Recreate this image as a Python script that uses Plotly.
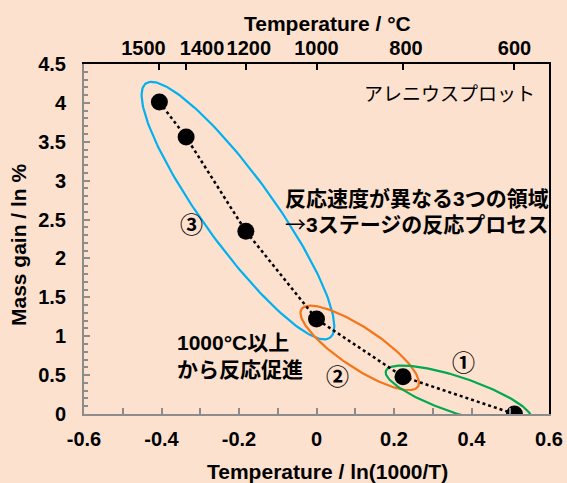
import numpy as np
import plotly.graph_objects as go

# ---- data ----
temps_c = [1500, 1400, 1200, 1000, 800, 600]          # measurement temperatures / °C
mass_gain = [4.01, 3.56, 2.35, 1.22, 0.48, 0.0]       # mass gain / %
top_tick_temps = [1500, 1400, 1200, 1000, 800, 600]   # top axis ticks / °C
x_tick_vals = [-0.6, -0.4, -0.2, 0, 0.2, 0.4, 0.6]
x_tick_text = ["-0.6", "-0.4", "-0.2", "0", "0.2", "0.4", "0.6"]
y_tick_vals = [0, 0.5, 1, 1.5, 2, 2.5, 3, 3.5, 4, 4.5]
y_tick_text = ["0", "0.5", "1", "1.5", "2", "2.5", "3", "3.5", "4", "4.5"]
x_vals = [float(np.log(1000.0 / t)) for t in temps_c]
top_tick_vals = [float(np.log(1000.0 / t)) for t in top_tick_temps]
top_tick_text = [str(t) for t in top_tick_temps]

# stage groupings (index ranges of points enclosed by ellipses)
stage_groups = [(0, 3), (3, 4), (4, 5)]
stage_colors = ["#00B0F0", "#F5761A", "#00A94F"]

# ---- layout / geometry ----
W, H = 567, 483
ML, MR, MT, MB = 84, 18, 64, 69
PW, PH = W - ML - MR, H - MT - MB
XR = [-0.6, 0.6]
YR = [0, 4.5]
stage_pad = [23, 18, 18]       # px beyond end points along major axis
stage_halfw = [35, 20, 18]     # px semi-minor axis
top_label_shift_px = [-16, 16, 3, 0, 3, 0]   # top labels sit slightly off their ticks

def to_px(x, y):
    return (ML + (x - XR[0]) / (XR[1] - XR[0]) * PW,
            MT + PH - (y - YR[0]) / (YR[1] - YR[0]) * PH)

def to_data(px, py):
    return (XR[0] + (px - ML) / PW * (XR[1] - XR[0]),
            YR[0] + (MT + PH - py) / PH * (YR[1] - YR[0]))

def ellipse(i0, i1, pad, hw):
    p0 = np.array(to_px(x_vals[i0], mass_gain[i0]))
    p1 = np.array(to_px(x_vals[i1], mass_gain[i1]))
    c = (p0 + p1) / 2
    d = p1 - p0
    a = np.hypot(*d) / 2 + pad
    ang = np.arctan2(d[1], d[0])
    t = np.linspace(0, 2 * np.pi, 181)
    ex = c[0] + a * np.cos(t) * np.cos(ang) - hw * np.sin(t) * np.sin(ang)
    ey = c[1] + a * np.cos(t) * np.sin(ang) + hw * np.sin(t) * np.cos(ang)
    xs, ys = to_data(ex, ey)
    return list(xs), list(ys)

top_label_pos = [v + s / PW * (XR[1] - XR[0]) for v, s in zip(top_tick_vals, top_label_shift_px)]

FONT = "Liberation Sans, Arial"
JFONT = "Liberation Sans, Noto Sans CJK JP"
CFONT = "Noto Sans CJK JP"
BG = "#FDE1CF"
GRAY = "#8C8C8C"

def b(s):
    return "<b>" + s + "</b>"

fig = go.Figure()

for (i0, i1), col, pad, hw in zip(stage_groups, stage_colors, stage_pad, stage_halfw):
    ex, ey = ellipse(i0, i1, pad, hw)
    fig.add_trace(go.Scatter(x=ex, y=ey, mode="lines",
                             line=dict(color=col, width=2.2),
                             hoverinfo="skip", showlegend=False))

fig.add_trace(go.Scatter(
    x=x_vals, y=mass_gain, mode="lines+markers",
    line=dict(color="black", width=2.5, dash="dot"),
    marker=dict(color="black", size=17),
    showlegend=False))

# invisible traces so the top / right axes are drawn
fig.add_trace(go.Scatter(x=top_tick_vals, y=mass_gain, xaxis="x2", yaxis="y2",
                         mode="markers", marker=dict(opacity=0),
                         hoverinfo="skip", showlegend=False))
fig.add_trace(go.Scatter(x=top_label_pos, y=mass_gain, xaxis="x3", yaxis="y",
                         mode="markers", marker=dict(opacity=0),
                         hoverinfo="skip", showlegend=False))

tickfont = dict(family=FONT, size=20, color="black")
titlefont = dict(family=FONT, size=21, color="black")

fig.update_layout(
    width=W, height=H,
    margin=dict(l=ML, r=MR, t=MT, b=MB, autoexpand=False),
    paper_bgcolor=BG, plot_bgcolor=BG,
    xaxis=dict(range=XR, showgrid=False, zeroline=False, automargin=False,
               tickmode="array", tickvals=x_tick_vals, ticktext=[b(s) for s in x_tick_text],
               showline=True, linecolor=GRAY, linewidth=2,
               ticks="inside", ticklen=6, tickcolor=GRAY, tickwidth=1.5,
               minor=dict(tickmode="linear", tick0=-0.6, dtick=0.1, ticks="inside",
                          ticklen=6, tickcolor=GRAY, tickwidth=1.5),
               tickfont=tickfont, ticklabelstandoff=6),
    yaxis=dict(range=YR, showgrid=False, zeroline=False, automargin=False,
               tickmode="array", tickvals=y_tick_vals, ticktext=[b(s) for s in y_tick_text],
               showline=True, linecolor=GRAY, linewidth=2,
               ticks="inside", ticklen=6, tickcolor=GRAY, tickwidth=1.5,
               minor=dict(tickmode="linear", tick0=0, dtick=0.1, ticks="inside",
                          ticklen=4, tickcolor=GRAY, tickwidth=1.5),
               tickfont=tickfont, ticklabelstandoff=12),
    xaxis2=dict(overlaying="x", side="top", range=XR, showgrid=False, zeroline=False,
                automargin=False,
                tickmode="array", tickvals=top_tick_vals, showticklabels=False,
                showline=True, linecolor="black", linewidth=1.5,
                ticks="inside", ticklen=6, tickcolor="black", tickwidth=1.5),
    xaxis3=dict(overlaying="x", side="top", range=XR, showgrid=False, zeroline=False,
                automargin=False, tickangle=0, showline=False, ticks="",
                tickmode="array", tickvals=top_label_pos,
                ticktext=[b(s) for s in top_tick_text],
                tickfont=tickfont, ticklabelstandoff=4),
    yaxis2=dict(overlaying="y", side="right", range=YR, showgrid=False, zeroline=False,
                automargin=False,
                showline=True, linecolor="black", linewidth=1.5,
                showticklabels=False, ticks=""),
)

# axis titles (placed by pixel position relative to the plot area)
def ptitle_px(px, py, text, angle=0):
    fig.add_annotation(x=(px - ML) / PW, y=(MT + PH - py) / PH, xref="paper", yref="paper",
                       xanchor="center", yanchor="middle", showarrow=False,
                       text=b(text), textangle=angle, font=titlefont)

ptitle_px(327, 24, "Temperature / °C")
ptitle_px(327, 471, "Temperature / ln(1000/T)")
ptitle_px(18, 245, "Mass gain / ln %", angle=-90)

def ann(x, y, text, size, bold=True, xanchor="center", align="center", family=JFONT):
    fig.add_annotation(x=x, y=y, xref="x", yref="y", text=b(text) if bold else text,
                       showarrow=False, xanchor=xanchor, yanchor="middle", align=align,
                       font=dict(family=family, size=size, color="black"))

ARROW = '<span style="font-family:\'Noto Sans CJK JP\'; font-weight:normal">→</span>'

ann(0.569, 4.114, "アレニウスプロット", 19, bold=False, xanchor="right", align="right")
ann(0.259, 2.77, "反応速度が異なる3つの領域", 21)
ann(0.259, 2.45, ARROW + "3ステージの反応プロセス", 21)
ann(-0.365, 0.914, "1000°C以上", 21, xanchor="left", align="left")
ann(-0.365, 0.567, "から反応促進", 21, xanchor="left", align="left")
ann(-0.322, 2.452, "③", 23, bold=True, family=CFONT)
ann(0.0537, 0.501, "②", 23, bold=True, family=CFONT)
ann(0.380, 0.685, "①", 23, bold=True, family=CFONT)

fig.write_html("out.html")
